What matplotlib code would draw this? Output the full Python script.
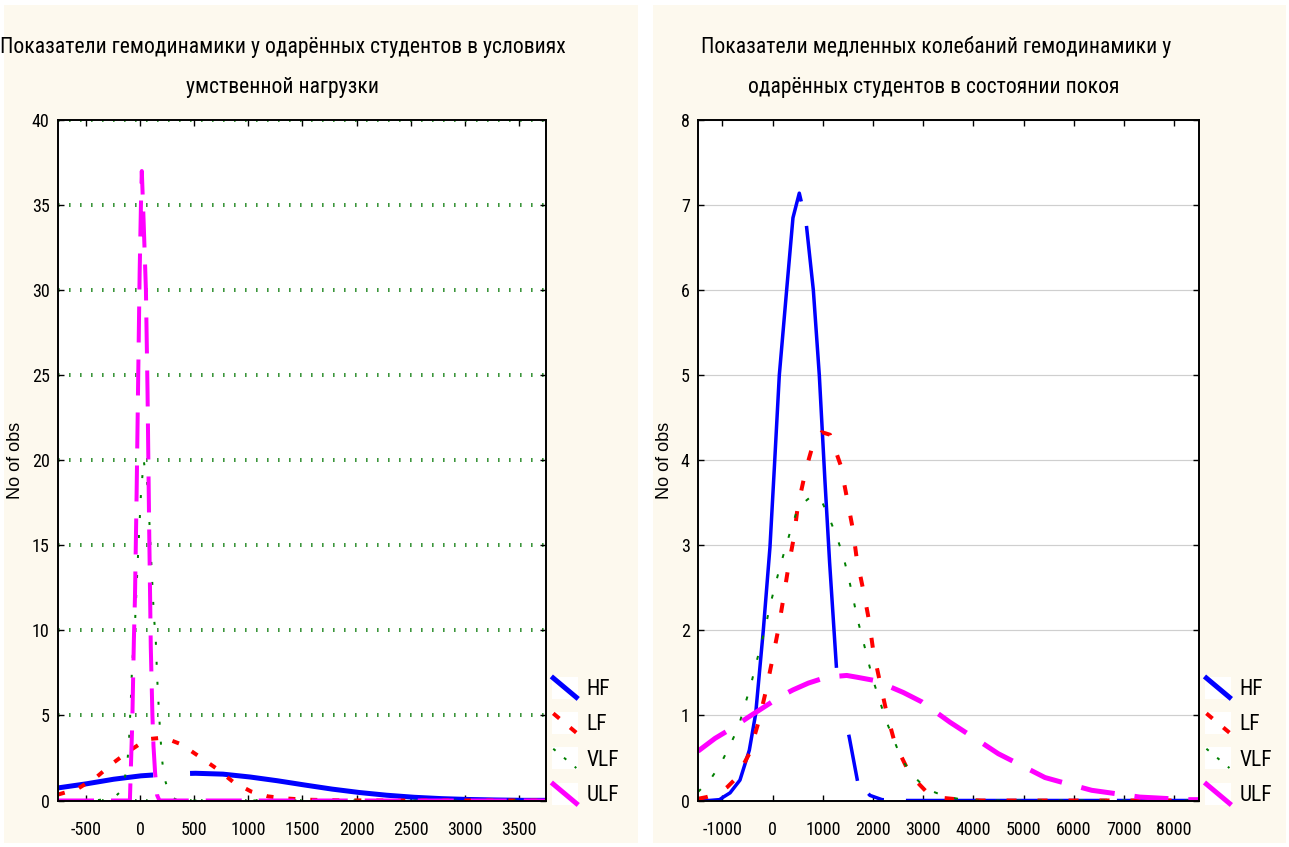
import matplotlib
matplotlib.use('Agg')
import matplotlib.pyplot as plt
from matplotlib.lines import Line2D
from matplotlib.patches import Rectangle
from matplotlib.legend_handler import HandlerBase

plt.rcParams['font.family'] = ['Roboto Condensed', 'Liberation Sans', 'DejaVu Sans']
plt.rcParams['lines.scale_dashes'] = False
plt.rcParams['axes.unicode_minus'] = False

# ---- data ----
series_names = ['HF', 'LF', 'VLF', 'ULF']

# left panel: mental load
left_hf_x = [-757, -495, -243, 9, 261, 513, 766, 1018, 1270, 1522, 1774, 2026, 2278, 2531, 2783, 3035, 3287, 3539, 3750]
left_hf_y = [0.74, 0.98, 1.25, 1.45, 1.56, 1.60, 1.55, 1.38, 1.16, 0.91, 0.67, 0.47, 0.31, 0.19, 0.11, 0.06, 0.03, 0.01, 0.01]

left_lf_x = [-757, -647, -573, -406, -249, -102, 65, 221, 382, 544, 702, 859, 1026, 1183, 1349, 1522, 1825, 2228, 3750]
left_lf_y = [0.35, 0.55, 0.70, 1.35, 2.20, 2.90, 3.60, 3.70, 3.30, 2.60, 1.90, 1.10, 0.53, 0.24, 0.12, 0.05, 0.01, 0.0, 0.0]

left_vlf_x = [-757, -394, -243, -183, -148, -117, -102, -86, -72, -46, -21, 9, 34, 70, 90, 110, 129, 145, 159, 178, 201, 222, 277, 342, 412, 3750]
left_vlf_y = [0.0, 0.02, 0.15, 0.5, 1.0, 2.2, 3.4, 5.6, 8.0, 10.4, 14.0, 18.0, 20.0, 18.5, 16.0, 13.3, 10.8, 9.6, 7.2, 4.9, 2.6, 1.4, 0.25, 0.03, 0.0, 0.0]

left_ulf_x = [-757, -142, -93, -86, -71, -56, -46, -31, -16, -3, 9, 17, 34, 55, 70, 85, 100, 115, 125, 140, 159, 180, 3750]
left_ulf_y = [0.0, 0.0, 0.0, 1.5, 4.6, 9.5, 12.0, 18.0, 25.0, 31.0, 35.0, 37.0, 34.0, 30.0, 24.0, 16.0, 9.0, 5.0, 3.2, 1.6, 0.3, 0.0, 0.0]

# right panel: rest
right_hf_x = [-1488, -1267, -1058, -984, -849, -652, -466, -339, -187, -54, 32, 132, 278, 404, 530, 665, 810, 929, 1041, 1134, 1274, 1395, 1527, 1693, 1938, 2178, 2596, 8494]
right_hf_y = [0.0, 0.0, 0.01, 0.04, 0.09, 0.24, 0.59, 1.02, 2.0, 2.98, 3.9, 5.0, 6.0, 6.85, 7.14, 6.8, 6.0, 5.0, 3.76, 2.8, 1.53, 1.1, 0.74, 0.22, 0.06, 0.01, 0.0, 0.0]

right_lf_x = [-1488, -1319, -1084, -901, -731, -466, -273, -134, -8, 111, 212, 311, 424, 498, 665, 810, 978, 1142, 1355, 1475, 1594, 1673, 1813, 1918, 2004, 2138, 2271, 2436, 2742, 3068, 3400, 3744, 4162, 8494]
right_lf_y = [0.02, 0.04, 0.08, 0.16, 0.26, 0.55, 0.94, 1.29, 1.65, 2.01, 2.37, 2.74, 3.10, 3.45, 3.9, 4.2, 4.33, 4.3, 3.94, 3.57, 3.2, 2.85, 2.45, 2.12, 1.76, 1.39, 1.03, 0.67, 0.3, 0.10, 0.03, 0.01, 0.0, 0.0]

right_vlf_x = [-1488, -1249, -1036, -850, -685, -566, -438, -339, -239, -139, -54, 46, 146, 265, 379, 510, 738, 962, 1142, 1295, 1420, 1520, 1606, 1686, 1844, 1992, 2124, 2251, 2403, 2565, 2784, 2989, 3214, 3433, 3692, 4058, 8494]
right_vlf_y = [0.1, 0.24, 0.43, 0.65, 0.86, 1.1, 1.35, 1.59, 1.82, 2.05, 2.29, 2.52, 2.75, 2.99, 3.22, 3.45, 3.56, 3.54, 3.30, 3.07, 2.84, 2.6, 2.37, 2.14, 1.78, 1.43, 1.19, 0.95, 0.73, 0.49, 0.3, 0.18, 0.10, 0.05, 0.02, 0.0, 0.0]

right_ulf_x = [-1488, -1150, -784, -484, -220, 146, 404, 710, 1076, 1475, 1673, 2039, 2325, 2602, 2969, 3533, 3898, 4162, 4495, 4862, 5425, 5790, 6356, 6720, 7318, 7650, 8248, 8494]
right_ulf_y = [0.58, 0.73, 0.86, 0.98, 1.08, 1.22, 1.30, 1.38, 1.45, 1.47, 1.45, 1.41, 1.34, 1.27, 1.16, 0.92, 0.78, 0.68, 0.55, 0.44, 0.27, 0.21, 0.12, 0.09, 0.04, 0.03, 0.01, 0.01]

left_title = ['Показатели гемодинамики у одарённых студентов в условиях', 'умственной нагрузки']
right_title = ['Показатели медленных колебаний гемодинамики у', 'одарённых студентов в состоянии покоя']
y_label = 'No of obs'

left_xticks = list(range(-500, 3501, 500))
left_yticks = list(range(0, 41, 5))
right_xticks = list(range(-1000, 8001, 1000))
right_yticks = list(range(0, 9))

BLUE, RED, GREEN, MAGENTA = '#0000ff', '#ff0000', '#008000', '#ff00ff'
CREAM = '#fdf9ee'


def pt(*px):
    # pixel lengths -> points (dpi 100)
    return tuple(v * 0.72 for v in px)


class DiagonalHandler(HandlerBase):
    # Statistica style legend key: diagonal stroke in a small white box
    def create_artists(self, legend, orig_handle, xdescent, ydescent,
                       width, height, fontsize, trans):
        x0, y0 = -xdescent, -ydescent
        box = Rectangle((x0, y0), width, height, facecolor='white',
                        edgecolor='none', transform=trans)
        line = Line2D([x0 + 1, x0 + width - 1], [y0 + height - 1, y0 + 1])
        line.update_from(orig_handle)
        line.set_transform(trans)
        return [box, line]


fig = plt.figure(figsize=(12.89, 8.47), dpi=100)
fig.patch.set_facecolor('white')
W, H = 1289.0, 847.0
fig.patches.append(Rectangle((4 / W, 1 - 843 / H), 634 / W, 838 / H, transform=fig.transFigure,
                             facecolor=CREAM, edgecolor='none', zorder=-10))
fig.patches.append(Rectangle((653 / W, 1 - 843 / H), 633 / W, 838 / H, transform=fig.transFigure,
                             facecolor=CREAM, edgecolor='none', zorder=-10))

axL = fig.add_axes([58 / W, 1 - 800.5 / H, 488 / W, 680.5 / H])
axR = fig.add_axes([698 / W, 1 - 800.5 / H, 501 / W, 680.5 / H])

# left panel curves
axL.plot(left_hf_x, left_hf_y, color=BLUE, lw=pt(5)[0], linestyle=(0, pt(96, 37, 3000, 1)))
axL.plot(left_lf_x, left_lf_y, color=RED, lw=pt(4)[0], linestyle=(0, pt(7, 15)))
axL.plot(left_vlf_x, left_vlf_y, color=GREEN, lw=pt(2)[0], linestyle=(0, pt(3, 17)))
axL.plot(left_ulf_x, left_ulf_y, color=MAGENTA, lw=pt(4)[0], linestyle=(0, pt(36, 17)))

# right panel curves
axR.plot(right_hf_x, right_hf_y, color=BLUE, lw=pt(3.5)[0],
         linestyle=(0, pt(650, 25, 443, 68, 47, 17, 17, 22, 201, 10, 3000, 1)))
axR.plot(right_lf_x, right_lf_y, color=RED, lw=pt(4)[0], linestyle=(0, pt(10, 21)))
axR.plot(right_vlf_x, right_vlf_y, color=GREEN, lw=pt(2)[0], linestyle=(0, pt(4, 17)))
axR.plot(right_ulf_x, right_ulf_y, color=MAGENTA, lw=pt(5)[0], linestyle=(0, pt(34, 20)))

axL.set_xlim(-757, 3750)
axL.set_ylim(0, 40)
axL.set_xticks(left_xticks)
axL.set_yticks(left_yticks)
axR.set_xlim(-1488, 8494)
axR.set_ylim(0, 8)
axR.set_xticks(right_xticks)
axR.set_yticks(right_yticks)

axL.grid(axis='y', color='#3c963c', lw=pt(4)[0], linestyle=(0, pt(1.6, 9.4)))
axR.grid(axis='y', color='#a0a0a0', lw=pt(1.2)[0], linestyle=(0, pt(1, 1)))

for ax in (axL, axR):
    ax.set_facecolor('white')
    ax.set_axisbelow(True)
    ax.tick_params(direction='in', length=4, width=1, top=True, right=True,
                   labelsize=13, colors='black')
    ax.tick_params(axis='x', pad=15)
    ax.tick_params(axis='y', pad=6)
    for s in ax.spines.values():
        s.set_color('black')
        s.set_linewidth(1.4)
    ax.set_ylabel(y_label, fontsize=13, family=['Liberation Sans', 'DejaVu Sans'])

axL.yaxis.set_label_coords(-0.07, 0.5)
axR.yaxis.set_label_coords(-0.05, 0.5)

# legends
leg_styles = [dict(color=BLUE, lw=pt(5)[0]),
              dict(color=RED, lw=pt(4)[0], linestyle=(0, pt(8, 14))),
              dict(color=GREEN, lw=pt(2)[0], linestyle=(0, pt(3, 11))),
              dict(color=MAGENTA, lw=pt(5)[0])]
for ax in (axL, axR):
    handles = [Line2D([], [], **st) for st in leg_styles]
    ax.legend(handles, series_names, loc='upper left',
              bbox_to_anchor=(1.012, 0.182),
              frameon=False, fontsize=15.5, handlelength=1.2, handleheight=1.2,
              handletextpad=0.4, labelspacing=0.56, borderpad=0, borderaxespad=0,
              handler_map={Line2D: DiagonalHandler()})

# titles
fig.text(283 / W, 1 - 47 / H, left_title[0], ha='center', va='center', fontsize=15.6)
fig.text(283 / W, 1 - 88 / H, left_title[1], ha='center', va='center', fontsize=15.6)
fig.text(936.5 / W, 1 - 47 / H, right_title[0], ha='center', va='center', fontsize=15.6)
fig.text(933.5 / W, 1 - 88 / H, right_title[1], ha='center', va='center', fontsize=15.6)

fig.savefig('out.png', dpi=100, facecolor=fig.get_facecolor())
